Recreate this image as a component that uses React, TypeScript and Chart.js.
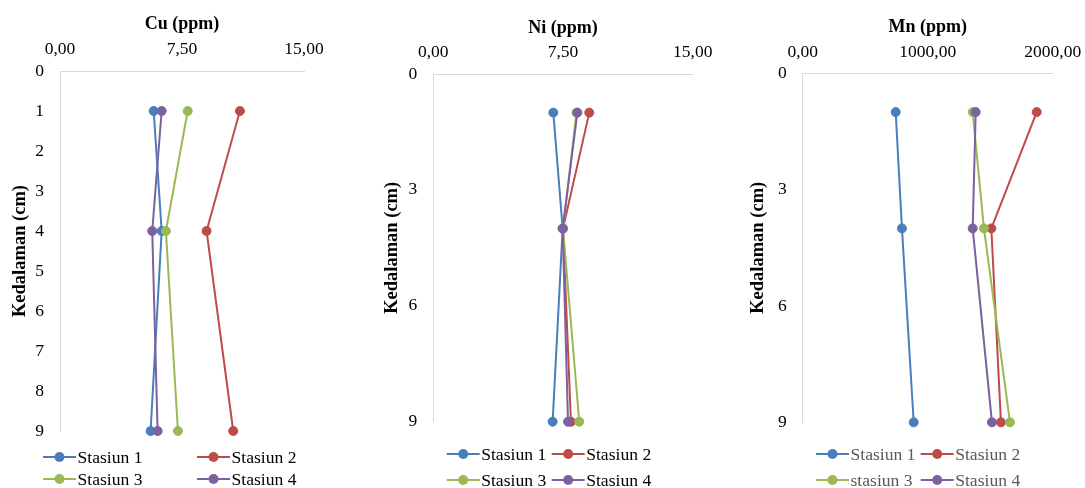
import React, { useEffect, useRef } from 'react';
import { Chart, registerables } from 'chart.js';

Chart.register(...registerables);

// ---- Data ----
const depths = [1, 4, 9];
const stationLabels = ['Stasiun 1', 'Stasiun 2', 'Stasiun 3', 'Stasiun 4'];
const mnStationLabels = ['Stasiun 1', 'Stasiun 2', 'stasiun 3', 'Stasiun 4'];

const cuStasiun1 = [5.76, 6.25, 5.57];
const cuStasiun2 = [11.06, 9.01, 10.65];
const cuStasiun3 = [7.85, 6.51, 7.25];
const cuStasiun4 = [6.25, 5.67, 6.0];

const niStasiun1 = [6.94, 7.48, 6.9];
const niStasiun2 = [9.02, 7.5, 7.96];
const niStasiun3 = [8.28, 7.5, 8.44];
const niStasiun4 = [8.33, 7.48, 7.79];

const mnStasiun1 = [744, 794, 888];
const mnStasiun2 = [1872, 1509, 1586];
const mnStasiun3 = [1360, 1450, 1658];
const mnStasiun4 = [1384, 1360, 1514];

const cuTitle = 'Cu (ppm)';
const niTitle = 'Ni (ppm)';
const mnTitle = 'Mn (ppm)';
const depthTitle = 'Kedalaman (cm)';

// ---- Styles ----
const colors = ['#4A7EBB', '#BE4B48', '#98B954', '#7D60A0'];
const FONT = "'Liberation Serif', 'Times New Roman', serif";

const legendPlugin = {
  id: 'lineLegend',
  afterDraw(chart: any, _args: any, opts: any) {
    const ctx = chart.ctx;
    ctx.save();
    chart.data.datasets.forEach((ds: any, i: number) => {
      const x = opts.cols[i % 2];
      const y = opts.rows[Math.floor(i / 2)];
      ctx.strokeStyle = ds.borderColor;
      ctx.lineWidth = 2;
      ctx.beginPath();
      ctx.moveTo(x, y);
      ctx.lineTo(x + 33, y);
      ctx.stroke();
      ctx.fillStyle = ds.borderColor;
      ctx.beginPath();
      ctx.arc(x + 16.5, y, 5, 0, Math.PI * 2);
      ctx.fill();
      ctx.fillStyle = opts.color;
      ctx.font = `17.6px ${FONT}`;
      ctx.textBaseline = 'middle';
      ctx.textAlign = 'left';
      ctx.fillText(ds.label, x + 34.5, y + 1);
    });
    ctx.restore();
  },
};

type PanelCfg = {
  left: number;
  w: number;
  title: string;
  series: number[][];
  labels: string[];
  xMax: number;
  xStep: number;
  yStep: number;
  area: { l: number; r: number; t: number; b: number };
  yTitlePad: number;
  xTitlePad: number;
  xTickPad: number;
  yTickPad: number;
  legendCols: number[];
  legendRows: number[];
  legendColor: string;
};

function Panel({ cfg }: { cfg: PanelCfg }) {
  const ref = useRef<HTMLCanvasElement>(null);
  useEffect(() => {
    const datasets = cfg.series.map((vals, i) => ({
      label: cfg.labels[i],
      data: vals.map((v, j) => ({ x: v, y: depths[j] })),
      borderColor: colors[i],
      backgroundColor: colors[i],
      pointBackgroundColor: colors[i],
      pointBorderColor: colors[i],
      pointRadius: 4.5,
      pointBorderWidth: 1,
      borderWidth: 2,
      showLine: true,
      tension: 0,
      order: 4 - i,
      clip: false as any,
    }));
    const chart = new Chart(ref.current!, {
      type: 'scatter',
      data: { datasets },
      plugins: [legendPlugin],
      options: {
        animation: false,
        responsive: false,
        devicePixelRatio: 1,
        layout: {
          padding: {
            left: 0,
            top: 0,
            right: cfg.w - cfg.area.r,
            bottom: 488 - cfg.area.b,
          },
        },
        plugins: {
          legend: { display: false },
          tooltip: { enabled: false },
          lineLegend: {
            cols: cfg.legendCols,
            rows: cfg.legendRows,
            color: cfg.legendColor,
          },
        } as any,
        scales: {
          x: {
            type: 'linear',
            position: 'top',
            min: 0,
            max: cfg.xMax,
            afterFit: (s: any) => {
              s.height = cfg.area.t;
              s.paddingLeft = 0;
              s.paddingRight = 0;
            },
            ticks: {
              stepSize: cfg.xStep,
              padding: cfg.xTickPad,
              color: '#000',
              font: { family: FONT, size: 17.5 },
              maxRotation: 0,
              autoSkip: false,
              callback: (v: any) => Number(v).toFixed(2).replace('.', ','),
            },
            grid: { display: false, drawTicks: false },
            border: { display: true, color: '#D9D9D9', width: 1 },
            title: {
              display: true,
              text: cfg.title,
              color: '#000',
              font: { family: FONT, size: 18, weight: 'bold' },
              padding: { top: cfg.xTitlePad, bottom: 0 },
            },
          },
          y: {
            type: 'linear',
            position: 'left',
            reverse: true,
            min: 0,
            max: 9,
            afterFit: (s: any) => {
              s.width = cfg.area.l;
              s.paddingTop = 0;
              s.paddingBottom = 0;
            },
            ticks: {
              stepSize: cfg.yStep,
              padding: cfg.yTickPad,
              color: '#000',
              font: { family: FONT, size: 17.5 },
              autoSkip: false,
            },
            grid: { display: false, drawTicks: false },
            border: { display: true, color: '#D9D9D9', width: 1 },
            title: {
              display: true,
              text: depthTitle,
              color: '#000',
              font: { family: FONT, size: 18.5, weight: 'bold' },
              padding: { top: cfg.yTitlePad, bottom: 0 },
            },
          },
        },
      } as any,
    });
    return () => chart.destroy();
  }, []);
  return (
    <canvas
      ref={ref}
      width={cfg.w}
      height={488}
      style={{ position: 'absolute', left: cfg.left, top: 0, width: cfg.w, height: 488 }}
    />
  );
}

const panels: PanelCfg[] = [
  {
    left: 0,
    w: 360,
    title: cuTitle,
    series: [cuStasiun1, cuStasiun2, cuStasiun3, cuStasiun4],
    labels: stationLabels,
    xMax: 15,
    xStep: 7.5,
    yStep: 1,
    area: { l: 60, r: 304, t: 71, b: 431 },
    yTitlePad: 9,
    xTitlePad: 14,
    xTickPad: 11,
    yTickPad: 16,
    legendCols: [43, 197],
    legendRows: [457, 479],
    legendColor: '#000',
  },
  {
    left: 360,
    w: 365,
    title: niTitle,
    series: [niStasiun1, niStasiun2, niStasiun3, niStasiun4],
    labels: stationLabels,
    xMax: 15,
    xStep: 7.5,
    yStep: 3,
    area: { l: 73.3, r: 332.7, t: 74, b: 421.7 },
    yTitlePad: 21,
    xTitlePad: 18,
    xTickPad: 11,
    yTickPad: 16,
    legendCols: [86.7, 191.7],
    legendRows: [454, 480],
    legendColor: '#000',
  },
  {
    left: 725,
    w: 360,
    title: mnTitle,
    series: [mnStasiun1, mnStasiun2, mnStasiun3, mnStasiun4],
    labels: mnStationLabels,
    xMax: 2000,
    xStep: 1000,
    yStep: 3,
    area: { l: 77.7, r: 327.7, t: 73.3, b: 422.3 },
    yTitlePad: 22.5,
    xTitlePad: 17,
    xTickPad: 10.5,
    yTickPad: 16,
    legendCols: [91, 195.7],
    legendRows: [454, 480],
    legendColor: '#595959',
  },
];

export default function App() {
  return (
    <div
      style={{
        position: 'absolute',
        left: 0,
        top: 0,
        width: 1085,
        height: 488,
        overflow: 'hidden',
        background: '#fff',
      }}
    >
      {panels.map((p, i) => (
        <Panel key={i} cfg={p} />
      ))}
    </div>
  );
}
